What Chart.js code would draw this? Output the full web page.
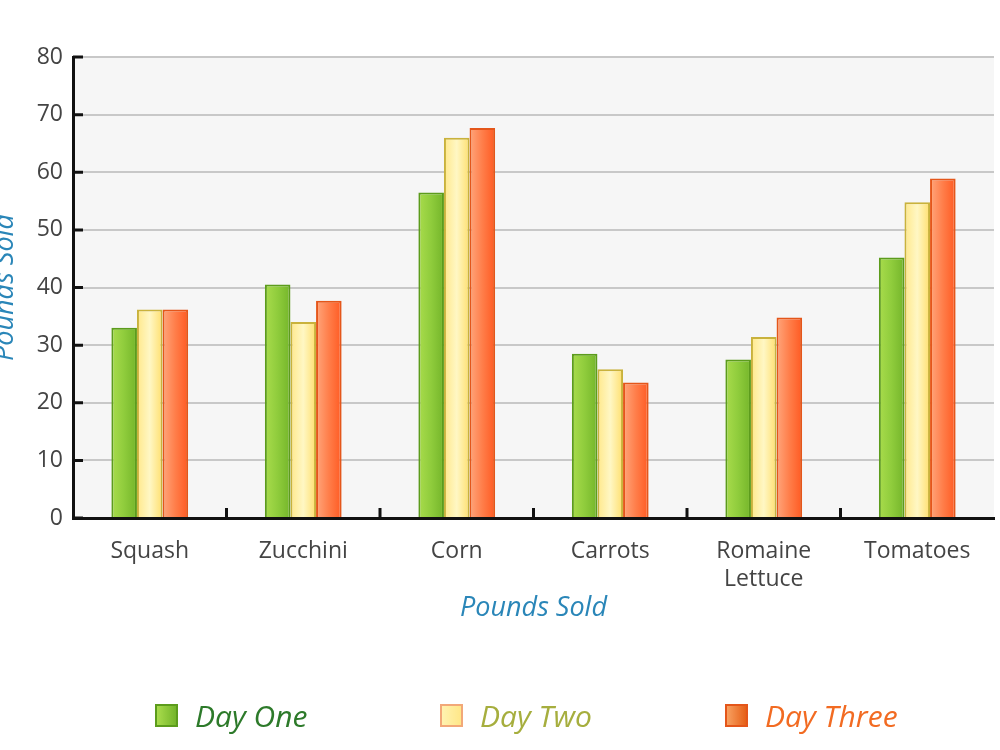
<!DOCTYPE html>
<html>
<head>
<meta charset="utf-8">
<script src="https://cdn.jsdelivr.net/npm/chart.js@4.4.1/dist/chart.umd.min.js"></script>
<style>
  html, body { margin: 0; padding: 0; background: #ffffff; overflow: hidden; }
  body { width: 1000px; height: 750px; position: relative; }
  #wrap { position: absolute; left: -12px; top: 0; width: 1012px; height: 750px; }
  #legend { position: absolute; left: 155px; top: 695px; display: flex; font-family: "Open Sans", sans-serif; font-style: italic; font-size: 30px; }
  .item { width: 285px; display: flex; align-items: center; }
  .box { width: 19px; height: 19px; border: 2px solid; margin-right: 17px; }
</style>
</head>
<body>
<div id="wrap"><canvas id="c" width="1012" height="750"></canvas></div>
<div id="legend"></div>
<script>
const categories = ['Squash', 'Zucchini', 'Corn', 'Carrots', ['Romaine', 'Lettuce'], 'Tomatoes'];
const seriesNames = ['Day One', 'Day Two', 'Day Three'];
const dayOne   = [33.0, 40.5, 56.5, 28.5, 27.5, 45.2];
const dayTwo   = [36.2, 34.0, 66.0, 25.8, 31.4, 54.8];
const dayThree = [36.2, 37.7, 67.7, 23.5, 34.8, 58.9];
const yTicks = [0, 10, 20, 30, 40, 50, 60, 70, 80];

const CAT_PCT = 0.5;
const styles = [
  { stops: ['#a9dc4c', '#8fcc3c', '#74b52a'], border: '#5c9c1c', text: '#2d7a2a', box: 'linear-gradient(90deg,#a9dc4c,#74b52a)' },
  { stops: ['#ffe88a', '#fff7c4', '#ffdf6e'], border: '#c9b23c', text: '#a6ae3e', box: 'linear-gradient(90deg,#fff2b0,#ffe788)', boxBorder: '#f2a878' },
  { stops: ['#ffa67c', '#ff7e4a', '#ff5a22'], border: '#e4561a', text: '#f26b22', box: 'linear-gradient(90deg,#f8a060,#e66018)' }
];

function barFill(di) {
  return (ctx) => {
    const chart = ctx.chart;
    const st = styles[di];
    const xs = chart.scales && chart.scales.x;
    if (!chart.chartArea || !xs || ctx.type !== 'data') return st.stops[1];
    const center = xs.getPixelForValue(ctx.dataIndex);
    const catW = xs.width / categories.length;
    const groupW = catW * CAT_PCT;
    const barW = groupW / 3;
    const left = center - groupW / 2 + ctx.datasetIndex * barW;
    const g = chart.ctx.createLinearGradient(left, 0, left + barW, 0);
    g.addColorStop(0, st.stops[0]);
    g.addColorStop(0.5, st.stops[1]);
    g.addColorStop(1, st.stops[2]);
    return g;
  };
}

const values = [dayOne, dayTwo, dayThree];
const datasets = values.map((v, i) => ({
  label: seriesNames[i],
  data: v,
  backgroundColor: barFill(i),
  borderColor: styles[i].border,
  borderWidth: 2,
  borderSkipped: 'bottom',
  categoryPercentage: CAT_PCT,
  barPercentage: 1.0
}));

const plotDecor = {
  id: 'plotDecor',
  beforeDraw(chart) {
    const a = chart.chartArea, c = chart.ctx;
    c.save();
    c.fillStyle = '#f6f6f6';
    c.fillRect(a.left, a.top, a.right - a.left, a.bottom - a.top);
    c.restore();
  },
  afterDraw(chart) {
    const a = chart.chartArea, c = chart.ctx;
    const ys = chart.scales.y, xs = chart.scales.x;
    c.save();
    c.strokeStyle = '#111';
    c.lineWidth = 3;
    c.beginPath();
    yTicks.forEach(v => {
      const y = ys.getPixelForValue(v);
      c.moveTo(a.left, y); c.lineTo(a.left + 10, y);
    });
    for (let i = 1; i < categories.length; i++) {
      const x = (xs.getPixelForValue(i - 1) + xs.getPixelForValue(i)) / 2;
      c.moveTo(x, a.bottom); c.lineTo(x, a.bottom - 10);
    }
    c.stroke();
    c.restore();
  }
};

new Chart(document.getElementById('c'), {
  type: 'bar',
  data: { labels: categories, datasets },
  plugins: [plotDecor],
  options: {
    responsive: false,
    animation: false,
    devicePixelRatio: 1,
    layout: { padding: { top: 57, right: 6, bottom: 122, left: 0 } },
    plugins: { legend: { display: false }, tooltip: { enabled: false } },
    scales: {
      x: {
        grid: { display: false, drawTicks: false },
        border: { display: true, color: '#111', width: 3 },
        ticks: { color: '#444', padding: 20, font: { family: 'Open Sans', size: 23 }, maxRotation: 0, autoSkip: false },
        title: { display: true, text: 'Pounds Sold', color: '#2a86b8', font: { family: 'Open Sans', size: 27, style: 'italic' }, padding: { top: 0, bottom: 3 } },
        afterFit(s) { s.height = 110; }
      },
      y: {
        min: 0, max: 80,
        afterBuildTicks(s) { s.ticks = yTicks.map(v => ({ value: v })); },
        grid: { color: '#c8c8c8', lineWidth: 2, drawTicks: false },
        border: { display: true, color: '#111', width: 3 },
        ticks: { color: '#444', padding: 10, font: { family: 'Open Sans', size: 23 } },
        title: { display: true, text: 'Pounds Sold', color: '#2a86b8', font: { family: 'Open Sans', size: 27, style: 'italic' }, padding: { top: 1, bottom: 0 } },
        afterFit(s) { s.width = 85; }
      }
    }
  }
});

const legend = document.getElementById('legend');
seriesNames.forEach((name, i) => {
  const it = document.createElement('div');
  it.className = 'item';
  const b = document.createElement('span');
  b.className = 'box';
  b.style.background = styles[i].box;
  b.style.borderColor = styles[i].boxBorder || styles[i].border;
  const t = document.createElement('span');
  t.textContent = name;
  t.style.color = styles[i].text;
  it.appendChild(b); it.appendChild(t);
  legend.appendChild(it);
});
</script>
</body>
</html>
